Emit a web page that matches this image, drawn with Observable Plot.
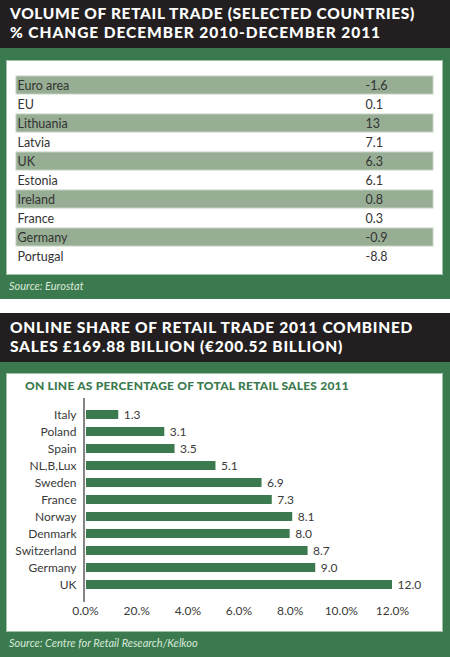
<!DOCTYPE html>
<html><head><meta charset="utf-8">
<script src="https://cdn.jsdelivr.net/npm/d3@7"></script>
<script src="https://cdn.jsdelivr.net/npm/@observablehq/plot@0.6"></script>
<style>
html,body{margin:0;padding:0;background:#fff;}
body{width:450px;height:657px;position:relative;overflow:hidden;font-family:Lato,"Open Sans",sans-serif;}
.blk{position:absolute;left:0;width:450px;}
.dark{background:#231f20;}
.grn{background:#3b7a4e;}
.panel{position:absolute;left:7px;width:435px;background:#fff;box-shadow:0 0 0 1px #9fc2a6;}
.t{position:absolute;white-space:nowrap;line-height:1;}
.hd{left:10px;color:#fff;font-weight:900;font-size:15.5px;line-height:18.6px;}
.hd span{display:block;width:max-content;}
.sub{left:25px;color:#3b7a4e;font-weight:900;font-size:12px;}
.src{left:9px;color:#d9e8da;font-style:italic;font-size:11px;}
.chart{position:absolute;left:7px;}
</style></head><body>
<div class="blk dark" style="top:0;height:48px"></div>
<div class="blk grn" style="top:48px;height:251px"></div>
<div class="blk dark" style="top:313px;height:49px"></div>
<div class="blk grn" style="top:362px;height:295px"></div>
<div class="panel" style="top:61px;height:213px"></div>
<div class="panel" style="top:374px;height:257px"></div>

<div class="t hd" style="top:4.3px"><span id="h1a">VOLUME OF RETAIL TRADE (SELECTED COUNTRIES)</span><span id="h1b">% CHANGE DECEMBER 2010-DECEMBER 2011</span></div>
<div class="t hd" style="top:318px"><span id="h2a">ONLINE SHARE OF RETAIL TRADE 2011 COMBINED</span><span id="h2b">SALES £169.88 BILLION (€200.52 BILLION)</span></div>
<div class="t sub" id="sub" style="top:379.5px">ON LINE AS PERCENTAGE OF TOTAL RETAIL SALES 2011</div>
<div class="t src" id="s1" style="top:280px">Source: Eurostat</div>
<div class="t src" id="s2" style="top:637px">Source: Centre for Retail Research/Kelkoo</div>

<div class="chart" id="c1" style="top:61px"></div>
<div class="chart" id="c2" style="top:374px"></div>

<script>
// ---- Data: table ----
const tableCountries = ["Euro area","EU","Lithuania","Latvia","UK","Estonia","Ireland","France","Germany","Portugal"];
const tableValues = [-1.6, 0.1, 13, 7.1, 6.3, 6.1, 0.8, 0.3, -0.9, -8.8];

// ---- Data: bar chart ----
const barCountries = ["Italy","Poland","Spain","NL,B,Lux","Sweden","France","Norway","Denmark","Switzerland","Germany","UK"];
const barValues = [1.3, 3.1, 3.5, 5.1, 6.9, 7.3, 8.1, 8.0, 8.7, 9.0, 12.0];
const xTicks = [0, 2, 4, 6, 8, 10, 12];
const xTickLabels = ["0.0%","20.%","4.0%","6.0%","8.0%","10.0%","12.0%"];

const font = 'Lato, "Open Sans", sans-serif';

// fit header lines to reference widths via letter-spacing
function fit(id, target){
  const el = document.getElementById(id);
  const n = el.textContent.length;
  const w = el.getBoundingClientRect().width;
  el.style.letterSpacing = ((target - w) / n) + "px";
}
fit("h1a", 405); fit("h1b", 371); fit("h2a", 403); fit("h2b", 333); fit("sub", 324);

const rows = tableCountries.map((c, i) => ({country: c, value: tableValues[i], shaded: i % 2 === 0}));

const table = Plot.plot({
  width: 435, height: 213,
  marginTop: 14, marginBottom: 8, marginLeft: 9, marginRight: 9,
  x: {type: "point", domain: ["country", "value"], range: [9.5, 358], padding: 0, axis: null},
  y: {type: "band", domain: tableCountries, padding: 0.04, axis: null},
  style: {fontFamily: font, fontSize: "12.5px", background: "transparent", overflow: "visible"},
  marks: [
    Plot.cell(rows.filter(d => d.shaded), {y: "country", fill: "#97ae94", stroke: "#c3d2c1", strokeWidth: 1}),
    Plot.text(rows, {x: () => "country", y: "country", text: "country", textAnchor: "start", fill: "#333"}),
    Plot.text(rows, {x: () => "value", y: "country", text: d => String(d.value), textAnchor: "start", fill: "#333"})
  ]
});
document.getElementById("c1").append(table);

const bars = barCountries.map((c, i) => ({country: c, value: barValues[i]}));

const chart = Plot.plot({
  width: 435, height: 257,
  marginTop: 24, marginBottom: 29, marginLeft: 78, marginRight: 50,
  x: {domain: [0, 12], ticks: xTicks, tickFormat: (d, i) => xTickLabels[i], tickSize: 0, tickPadding: 4, label: null},
  y: {type: "band", domain: barCountries, padding: 0.47, tickSize: 0, tickPadding: 9, label: null},
  style: {fontFamily: font, fontSize: "12px", color: "#3a3a3a", background: "transparent", overflow: "visible"},
  marks: [
    Plot.barX(bars, {x: "value", y: "country", fill: "#3b7a4e", insetLeft: 1}),
    Plot.text(bars, {x: "value", y: "country", text: d => d.value.toFixed(1), dx: 5, textAnchor: "start", fill: "#3a3a3a"}),
    Plot.ruleX([0], {stroke: "#333", strokeWidth: 1.2, dx: -1.5})
  ]
});
document.getElementById("c2").append(chart);
</script>
</body></html>
